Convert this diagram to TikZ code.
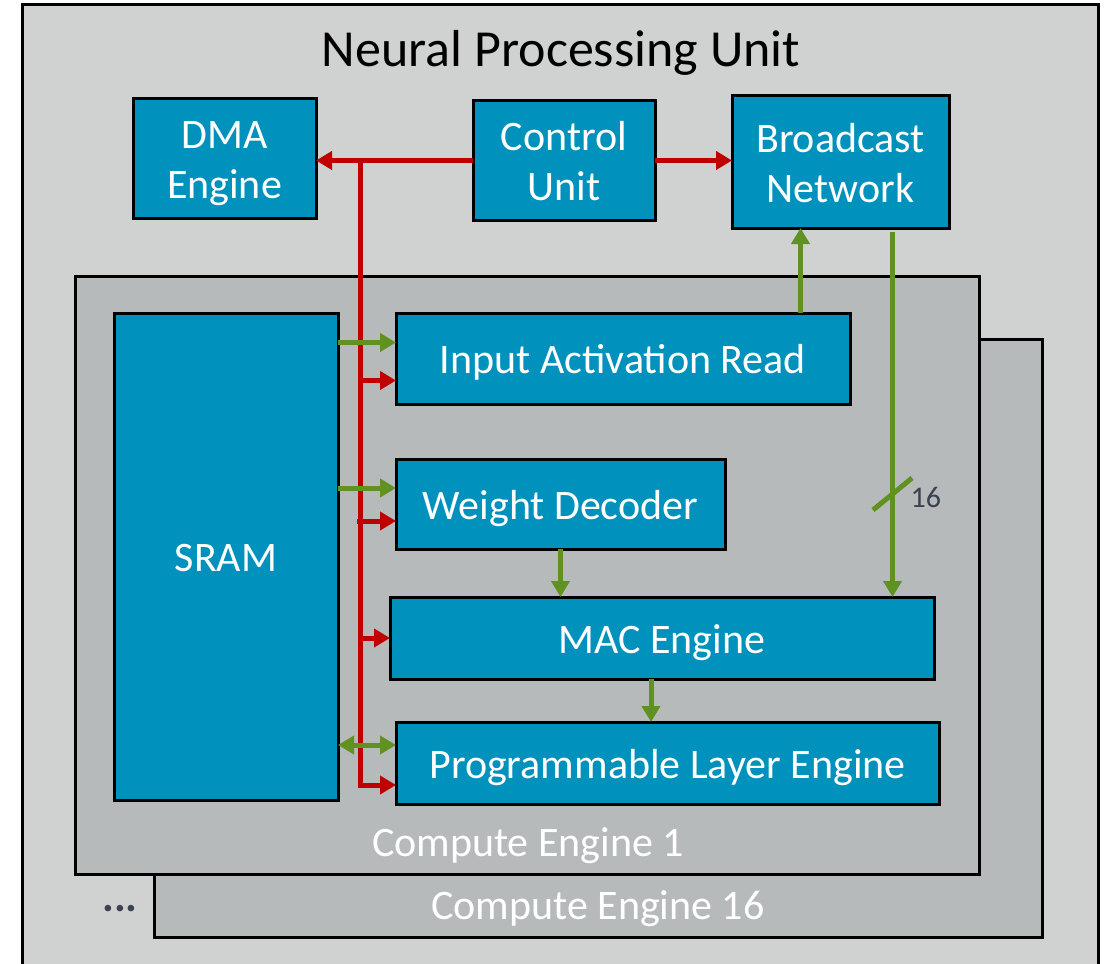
\documentclass[tikz,border=0pt]{standalone}
\usepackage{fontspec}
\setmainfont{Carlito}
\usetikzlibrary{arrows.meta,calc}
\definecolor{npugray}{RGB}{208,209,209}
\definecolor{cegray}{RGB}{183,186,187}
\definecolor{blockblue}{RGB}{0,146,188}
\definecolor{ctrlred}{RGB}{192,0,0}
\definecolor{datagreen}{RGB}{96,146,34}
\definecolor{labeldark}{RGB}{59,66,80}

% block captions sit a little below the geometric centre
\newcommand{\blocktext}[1]{\raisebox{-5pt}[\height][\depth]{\begin{tabular}{@{}c@{}}#1\end{tabular}}}

\begin{document}
\begin{tikzpicture}[x=1pt,y=-1pt,
  frame/.style={draw=black,line width=3pt,anchor=north west,inner sep=0pt,outer sep=0pt},
  block/.style={frame,fill=blockblue,text=white,align=center,
    font=\fontsize{42}{50}\selectfont},
  celabel/.style={text=white,font=\fontsize{42}{50}\selectfont},
  ctrl/.style={draw=ctrlred,line width=5pt,-{Triangle[length=16pt,width=18pt]}},
  ctrlline/.style={draw=ctrlred,line width=5pt},
  data/.style={draw=datagreen,line width=5pt,-{Triangle[length=16pt,width=18pt]}},
  databoth/.style={draw=datagreen,line width=5pt,{Triangle[length=16pt,width=18pt]}-{Triangle[length=16pt,width=18pt]}}]
\useasboundingbox (0,0) rectangle (1107,963);

% NPU enclosure
\node[frame,fill=npugray,minimum width=1076pt,minimum height=990pt] (npu) at (22,5) {};
\node[font=\fontsize{52}{60}\selectfont] (title) at (561,53) {Neural Processing Unit};

% top level blocks
\node[block,minimum width=183pt,minimum height=119pt] (dma) at (133,99) {\blocktext{DMA\\Engine}};
\node[block,minimum width=182pt,minimum height=119pt] (cu) at (473,101) {\blocktext{Control\\Unit}};
\node[block,minimum width=217pt,minimum height=132pt] (bn) at (732,96) {\blocktext{Broadcast\\Network}};

% stacked compute engines
\node[frame,fill=cegray,minimum width=888pt,minimum height=598pt] (ce16) at (154,339) {};
\node[celabel] (ce16lbl) at (598,909) {Compute Engine 16};
\node[text=labeldark,font=\fontsize{44}{50}\bfseries\selectfont] (dots) at (120,909) {...};
\node[frame,fill=cegray,minimum width=904pt,minimum height=598pt] (ce1) at (75,276) {};
\node[celabel] (ce1lbl) at (528,846) {Compute Engine 1};

% compute engine internals
\node[block,minimum width=224pt,minimum height=487pt] (sram) at (114,313) {\blocktext{SRAM}};
\node[block,minimum width=454pt,minimum height=91pt] (iar) at (396,313) {\blocktext{Input Activation Read}};
\node[block,minimum width=329pt,minimum height=90pt] (wd) at (396,459) {\blocktext{Weight Decoder}};
\node[block,minimum width=544pt,minimum height=82pt] (mac) at (390,597) {\blocktext{MAC Engine}};
\node[block,minimum width=543pt,minimum height=82pt] (ple) at (396,722) {\blocktext{Programmable Layer Engine}};

% control paths
\coordinate (rtop) at (360,160);
\coordinate (rbot) at (360,785);
\draw[ctrl] (cu.west) -- (dma.east |- cu.west);
\draw[ctrl] (cu.east) -- (bn.west |- cu.east);
\draw[ctrlline] (rtop) -- (rbot);
\draw[ctrl] ($(rtop |- iar.west)+(0,22)$) -- ($(iar.west)+(0,22)$);
\draw[ctrl] ($(rtop |- wd.west)+(-3,17)$) -- ($(wd.west)+(0,17)$);
\draw[ctrl] (rtop |- mac.west) -- (mac.west);
\draw[ctrl] ($(rbot)+(-2.5,0)$) -- (ple.west |- rbot);

% data paths
\draw[data] ($(sram.east |- iar.west)+(0,-16)$) -- ($(iar.west)+(0,-16)$);
\draw[data] ($(sram.east |- wd.west)+(0,-16)$) -- ($(wd.west)+(0,-16)$);
\draw[databoth] ($(sram.east |- ple.west)+(0,-18)$) -- ($(ple.west)+(0,-18)$);
\coordinate (upx) at ($(bn.south)+(-40,0)$);
\draw[data] (iar.north -| upx) -- (upx);
\coordinate (downx) at ($(bn.south)+(52,4)$);
\draw[data] (downx) -- (mac.north -| downx);
\draw[data] (wd.south) -- (mac.north -| wd.south);
\coordinate (macout) at ($(mac.south)+(-11,0)$);
\draw[data] (macout) -- (ple.north -| macout);

% bus width mark
\draw[datagreen,line width=5pt] (873,510) -- (912,478);
\node[text=labeldark,font=\fontsize{30}{36}\selectfont,anchor=west] (width) at (907,497) {16};
\end{tikzpicture}
\end{document}
